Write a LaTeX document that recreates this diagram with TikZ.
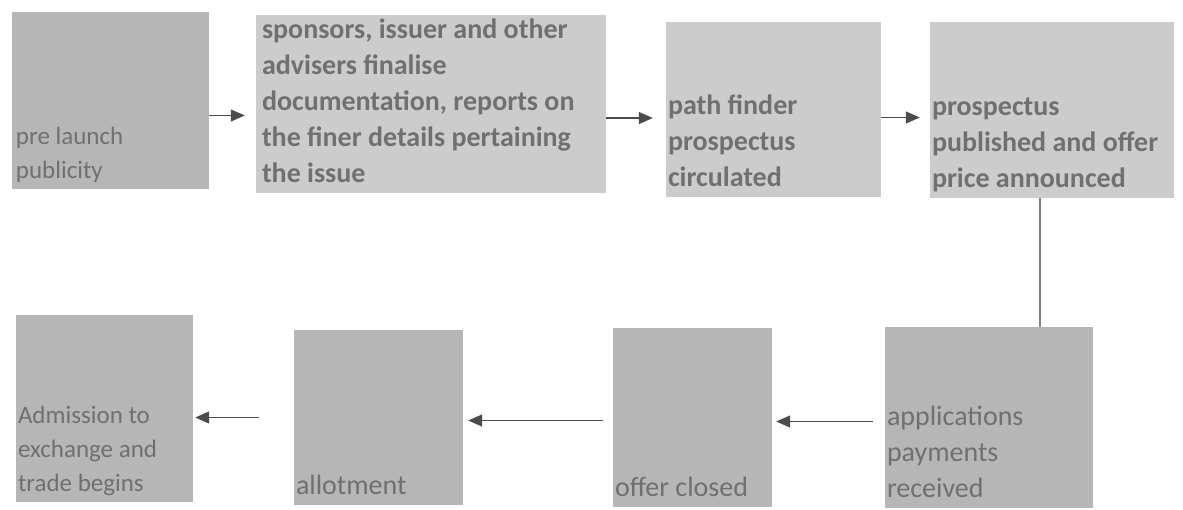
\documentclass[tikz,border=0pt]{standalone}
\usepackage{fontspec}
\setmainfont{Carlito}
\usetikzlibrary{arrows.meta}
\definecolor{boxdark}{RGB}{182,182,182}
\definecolor{boxlight}{RGB}{204,204,204}
\definecolor{txtgray}{RGB}{112,112,112}
\definecolor{linegray}{RGB}{75,75,75}
\tikzstyle{box} = [rectangle, fill=boxdark, inner sep=0pt]
\tikzstyle{lbl} = [anchor=south west, inner sep=0pt, xshift=2pt, align=left,
    text=txtgray, font=\fontsize{28}{36}\selectfont]
\tikzstyle{lblsmall} = [lbl, font=\fontsize{25}{34}\selectfont]
\tikzstyle{lblbold} = [lbl, font=\fontsize{28}{36}\selectfont\bfseries]
\tikzstyle{flow} = [draw=linegray, line width=1.4pt]

\begin{document}
\begin{tikzpicture}[x=1pt,y=-1pt,->,>={Triangle[length=14pt,width=12pt]}]
  \useasboundingbox (0,0) rectangle (1183,510);

  % top row
  \node[box, minimum width=197pt, minimum height=177pt,
        label={[lblsmall,xshift=2pt]south west:pre launch\\publicity\strut}]
        (prelaunch) at (110.5,100.5) {};
  \node[box, fill=boxlight, minimum width=350pt, minimum height=178pt,
        label={[lblbold,xshift=4pt]south west:{sponsors, issuer and other\\advisers finalise\\documentation, reports on\\the finer details pertaining\\the issue\strut}}]
        (sponsors) at (431,104) {};
  \node[box, fill=boxlight, minimum width=215pt, minimum height=175pt,
        label={[lblbold]south west:path finder\\prospectus\\circulated\strut}]
        (pathfinder) at (773.5,109.5) {};
  \node[box, fill=boxlight, minimum width=244pt, minimum height=176pt,
        label={[lblbold]south west:prospectus\\published and offer\\price announced\strut}]
        (prospectus) at (1052,110) {};

  % bottom row
  \node[box, minimum width=208pt, minimum height=181pt,
        label={[lbl]south west:applications\\payments\\received\strut}]
        (applications) at (989,417.5) {};
  \node[box, minimum width=159pt, minimum height=179pt,
        label={[lbl]south west:offer closed\strut}]
        (closed) at (692.5,417.5) {};
  \node[box, minimum width=169pt, minimum height=175pt,
        label={[lbl]south west:allotment\strut}]
        (allotment) at (378.5,417.5) {};
  \node[box, minimum width=177pt, minimum height=187pt,
        label={[lblsmall]south west:Admission to\\exchange and\\trade begins\strut}]
        (admission) at (104.5,408.5) {};

  \path ([yshift=-15pt]prelaunch.east)
          edge[flow, shorten >=11pt] ([yshift=-15pt]prelaunch.east -| sponsors.west)
        ([yshift=-14pt]sponsors.east)
          edge[flow, shorten >=13pt] ([yshift=-14pt]sponsors.east -| pathfinder.west)
        ([yshift=-8pt]pathfinder.east)
          edge[flow, shorten >=10pt] ([yshift=-8pt]pathfinder.east -| prospectus.west);
  \draw[flow, -, draw=gray] ([xshift=-12pt]prospectus.south)
        -- ([xshift=-12pt]prospectus.south |- applications.north);
  \path ([yshift=-4pt]applications.west)
          edge[flow, shorten <=12pt, shorten >=4pt] ([yshift=-4pt]applications.west -| closed.east)
        ([yshift=-3pt]closed.west)
          edge[flow, shorten <=10pt, shorten >=5pt] ([yshift=-3pt]closed.west -| allotment.east)
        (allotment.west)
          edge[flow, shorten <=35pt, shorten >=2pt] (allotment.west -| admission.east);
\end{tikzpicture}
\end{document}
